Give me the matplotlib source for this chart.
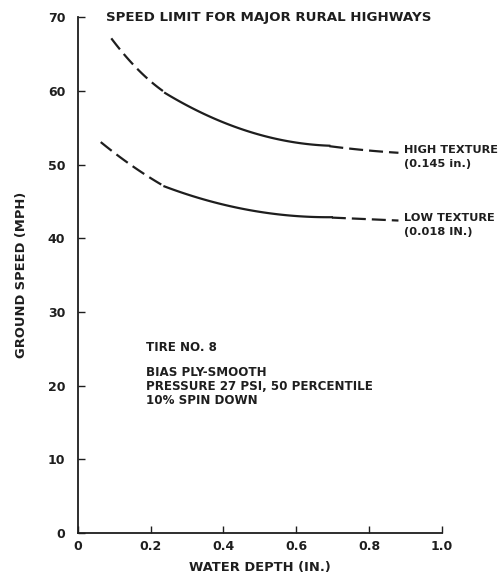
import numpy as np
import matplotlib.pyplot as plt

# high texture curve (0.145 in.)
hi_dash1_x = [0.092, 0.13, 0.17, 0.217, 0.240]
hi_dash1_y = [67.1, 64.9, 62.6, 60.6, 59.8]
hi_solid_x = [0.240, 0.30, 0.373, 0.44, 0.50, 0.60, 0.691]
hi_solid_y = [59.8, 57.9, 56.3, 55.0, 54.0, 53.1, 52.5]
hi_dash2_x = [0.691, 0.78, 0.881]
hi_dash2_y = [52.5, 52.0, 51.6]

# low texture curve (0.018 in.)
lo_dash1_x = [0.063, 0.10, 0.16, 0.219, 0.238]
lo_dash1_y = [53.05, 51.6, 49.5, 47.5, 47.1]
lo_solid_x = [0.238, 0.30, 0.363, 0.43, 0.50, 0.60, 0.698]
lo_solid_y = [47.1, 45.9, 45.0, 44.2, 43.6, 43.1, 42.8]
lo_dash2_x = [0.698, 0.79, 0.881]
lo_dash2_y = [42.8, 42.6, 42.4]

xticks = [0, 0.2, 0.4, 0.6, 0.8, 1.0]
xtick_labels = ['0', '0.2', '0.4', '0.6', '0.8', '1.0']
yticks = [0, 10, 20, 30, 40, 50, 60, 70]

ink = '#1e1e1e'
plt.rcParams['font.family'] = ['DejaVu Sans']

fig = plt.figure(figsize=(5.02, 5.76), dpi=100)
ax = fig.add_axes([0.155, 0.075, 0.725, 0.895])

def smooth(xs, ys, n=60):
    # quadratic fit through read-off points just for a smooth stroke
    c = np.polyfit(xs, ys, 2)
    xx = np.linspace(xs[0], xs[-1], n)
    return xx, np.polyval(c, xx)

dash = (0, (6.3, 2.7))
for dx, dy in [(hi_dash1_x, hi_dash1_y), (hi_dash2_x, hi_dash2_y),
               (lo_dash1_x, lo_dash1_y), (lo_dash2_x, lo_dash2_y)]:
    xx, yy = smooth(dx, dy)
    ax.plot(xx, yy, color=ink, lw=1.6, linestyle=dash)
for sx, sy in [(hi_solid_x, hi_solid_y), (lo_solid_x, lo_solid_y)]:
    xx, yy = smooth(sx, sy)
    ax.plot(xx, yy, color=ink, lw=1.6)

ax.set_xlim(0, 1.0)
ax.set_ylim(0, 70)
for s in ['top', 'right']:
    ax.spines[s].set_visible(False)
for s in ['left', 'bottom']:
    ax.spines[s].set_color(ink)
    ax.spines[s].set_linewidth(1.3)
ax.spines['left'].set_bounds(0, 70)

ax.set_xticks(xticks)
ax.set_xticklabels(xtick_labels)
ax.set_yticks(yticks)
ax.tick_params(direction='in', length=5, width=1, colors=ink,
               labelsize=9, pad=5)
ax.tick_params(axis='y', pad=9)
for lab in ax.get_xticklabels() + ax.get_yticklabels():
    lab.set_fontweight('bold')

ax.set_xlabel('WATER DEPTH (IN.)', fontsize=9.4, fontweight='bold',
              color=ink, labelpad=6)
ax.set_ylabel('GROUND SPEED (MPH)', fontsize=9.4, fontweight='bold',
              color=ink, labelpad=14)

kw = dict(fontsize=8.2, fontweight='bold', color=ink)
ax.text(0.078, 70, 'SPEED LIMIT FOR MAJOR RURAL HIGHWAYS',
        va='center', ha='left', fontsize=9.6, fontweight='bold', color=ink)
ax.text(0.895, 51.3, 'HIGH TEXTURE', va='bottom', **kw)
ax.text(0.895, 50.8, '(0.145 in.)', va='top', **kw)
ax.text(0.895, 42.1, 'LOW TEXTURE', va='bottom', **kw)
ax.text(0.895, 41.5, '(0.018 IN.)', va='top', **kw)

kw2 = dict(fontsize=8.6, fontweight='bold', color=ink)
ax.text(0.187, 25.2, 'TIRE NO. 8', va='center', **kw2)
ax.text(0.187, 21.8, 'BIAS PLY-SMOOTH', va='center', **kw2)
ax.text(0.187, 19.9, 'PRESSURE 27 PSI, 50 PERCENTILE', va='center', **kw2)
ax.text(0.187, 18.0, '10% SPIN DOWN', va='center', **kw2)

fig.savefig('out.png', dpi=100, facecolor='white')
